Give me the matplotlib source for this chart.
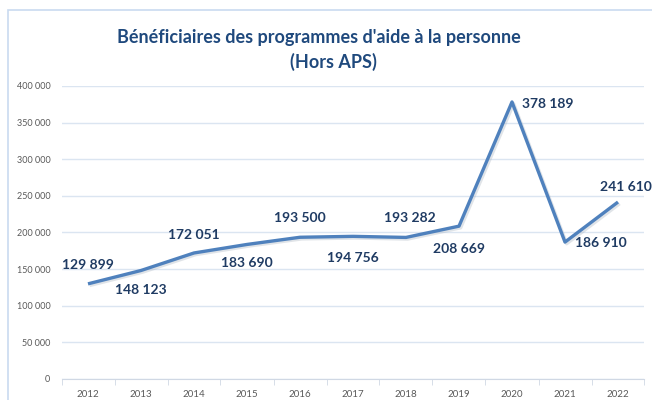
import matplotlib.pyplot as plt
import matplotlib.patheffects as pe
from matplotlib.patches import Rectangle

years = ["2012", "2013", "2014", "2015", "2016", "2017", "2018", "2019", "2020", "2021", "2022"]
beneficiaires = [129899, 148123, 172051, 183690, 193500, 194756, 193282, 208669, 378189, 186910, 241610]

# position des etiquettes (decalage en pixels, alignement)
label_offsets = [(0, 19, "center"), (0, -20, "center"), (0, 18, "center"), (0, -19, "center"),
                 (0, 19, "center"), (0, -22, "center"), (4, 19, "center"), (0, -23, "center"),
                 (10, -2, "left"), (10, -1, "left"), (-18, 15, "left")]

def fmt(v):
    return f"{v:,}".replace(",", " ")

plt.rcParams["font.family"] = ["Lato", "DejaVu Sans"]

fig = plt.figure(figsize=(6.52, 4.0), dpi=100)
fig.patches.append(Rectangle((8 / 652, -0.1), 1.1, 1 - 10 / 400 + 0.1, transform=fig.transFigure,
                             fill=False, edgecolor="#c9daf0", linewidth=1.2))

ax = fig.add_axes([61.5 / 652, 21 / 400, 583 / 652, 293 / 400])
x = list(range(len(years)))
ax.plot(x, beneficiaires, color="#4f81bd", linewidth=2.4, solid_capstyle="butt",
        path_effects=[pe.SimpleLineShadow(offset=(1.2, -1.2), shadow_color="#a8b2be", alpha=0.35),
                      pe.Normal()], zorder=3)

for i, v in enumerate(beneficiaires):
    dx, dy, ha = label_offsets[i]
    ax.annotate(fmt(v), (i, v), xytext=(dx, dy), textcoords="offset pixels",
                ha=ha, va="center", fontsize=10, fontweight="bold", color="#1f3b63")

ax.set_xlim(-0.5, len(years) - 0.5)
ax.set_ylim(0, 400000)
yt = list(range(0, 400001, 50000))
ax.set_yticks(yt)
ax.set_yticklabels([fmt(t) for t in yt], fontsize=6.5, color="#595959")
ax.set_xticks(x)
ax.set_xticklabels(years, fontsize=7, color="#595959")
ax.set_xticks([i - 0.5 for i in range(len(years) + 1)], minor=True)
ax.tick_params(axis="x", which="major", length=0, pad=8)
ax.tick_params(axis="x", which="minor", length=4, color="#d0d8e4")
ax.tick_params(axis="y", length=0, pad=8)

ax.grid(axis="y", color="#dbe5f1", linewidth=1)
ax.set_axisbelow(True)
for s in ["top", "right", "left"]:
    ax.spines[s].set_visible(False)
ax.spines["bottom"].set_color("#d0d8e4")

fig.text(319 / 652, 1 - 37 / 400, "Bénéficiaires des programmes d'aide à la personne",
         ha="center", va="center", fontsize=13, fontweight="bold", color="#1f497d")
fig.text(333 / 652, 1 - 62 / 400, "(Hors APS)",
         ha="center", va="center", fontsize=13, fontweight="bold", color="#1f497d")

fig.savefig("out.png", dpi=100)
